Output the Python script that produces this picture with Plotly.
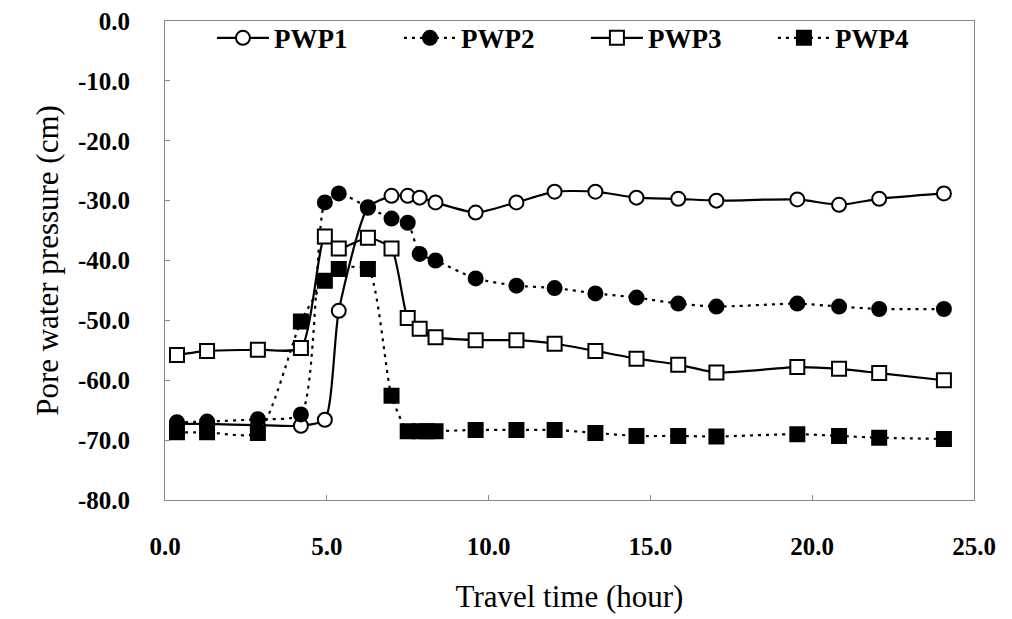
import plotly.graph_objects as go

# Data
t_common = [0.37, 1.3, 2.87, 4.2, 4.94, 5.37, 6.27, 7.0, 7.5, 7.87, 8.36, 9.6, 10.86,
            12.04, 13.3, 14.57, 15.86, 17.04, 19.54, 20.83, 22.07, 24.07]

pwp1 = [-67.3, -67.3, -67.5, -67.6, -66.6, -48.4, -31.2, -29.2, -29.2, -29.5, -30.3, -32.0,
        -30.3, -28.5, -28.5, -29.5, -29.7, -30.0, -29.8, -30.7, -29.7, -28.8]
pwp2 = [-67.0, -66.9, -66.5, -65.7, -30.3, -28.8, -31.1, -33.0, -33.7, -38.9, -40.0, -43.0,
        -44.2, -44.6, -45.5, -46.2, -47.2, -47.7, -47.2, -47.7, -48.1, -48.1]
pwp3 = [-55.8, -55.1, -54.9, -54.6, -36.0, -38.0, -36.2, -38.0, -49.6, -51.4, -52.8, -53.3,
        -53.3, -53.9, -55.1, -56.4, -57.4, -58.7, -57.8, -58.1, -58.8, -60.0]
t_pwp4 = [0.37, 1.3, 2.87, 4.2, 4.94, 5.37, 6.27, 7.0, 7.5, 7.87, 8.1, 8.36, 9.6, 10.86,
          12.04, 13.3, 14.57, 15.86, 17.04, 19.54, 20.83, 22.07, 24.07]
pwp4 = [-68.7, -68.7, -68.8, -50.2, -43.4, -41.4, -41.4, -62.6, -68.5, -68.5, -68.5, -68.5,
        -68.3, -68.3, -68.3, -68.8, -69.3, -69.3, -69.4, -69.0, -69.3, -69.6, -69.8]

x_ticks = [0, 5, 10, 15, 20, 25]
x_labels = ["0.0", "5.0", "10.0", "15.0", "20.0", "25.0"]
y_ticks = [0, -10, -20, -30, -40, -50, -60, -70, -80]
y_labels = ["0.0", "-10.0", "-20.0", "-30.0", "-40.0", "-50.0", "-60.0", "-70.0", "-80.0"]

series = [
    ("PWP1", t_common, pwp1, "circle", True, "solid"),
    ("PWP2", t_common, pwp2, "circle", False, "3px,5px"),
    ("PWP3", t_common, pwp3, "square", True, "solid"),
    ("PWP4", t_pwp4, pwp4, "square", False, "3px,5px"),
]

fig = go.Figure()
for name, xs, ys, sym, open_m, dash in series:
    fig.add_trace(go.Scatter(
        x=xs, y=ys, name="<b>" + name + "</b>", mode="lines+markers",
        line=dict(color="black", width=2.2, dash=dash, shape="spline", smoothing=0.6),
        marker=dict(symbol=sym, size=14,
                    color="white" if open_m else "black",
                    line=dict(color="black", width=2)),
    ))

tick_font = dict(family="Liberation Serif", size=25, color="black")
fig.update_layout(
    width=1004, height=611,
    margin=dict(l=157, r=38, t=13, b=119, autoexpand=False),
    paper_bgcolor="white", plot_bgcolor="white",
    font=dict(family="Liberation Serif", color="black"),
    showlegend=True,
    legend=dict(orientation="h", x=0.058, y=1.015, xanchor="left", yanchor="top",
                entrywidth=120, entrywidthmode="pixels", itemwidth=52,
                font=dict(family="Liberation Serif", size=27, color="black"),
                bgcolor="rgba(0,0,0,0)"),
    xaxis=dict(range=[0, 25], tickvals=x_ticks, automargin=False,
               ticktext=["<b>" + s + "</b>" for s in x_labels],
               showgrid=False, zeroline=False, showline=True, mirror=True,
               linecolor="#888", linewidth=1, ticks="inside", ticklen=5, tickcolor="#888",
               tickfont=tick_font, ticklabelstandoff=24, ticklabeloverflow="allow",
               title=dict(text="Travel time (hour)",
                          font=dict(family="Liberation Serif", size=31, color="black"),
                          standoff=26)),
    yaxis=dict(range=[-80, 0], tickvals=y_ticks, automargin=False,
               ticktext=["<b>" + s + "</b>" for s in y_labels],
               showgrid=False, zeroline=False, showline=True, mirror=True,
               linecolor="#888", linewidth=1, ticks="inside", ticklen=5, tickcolor="#888",
               tickfont=tick_font, ticklabelstandoff=29, ticklabeloverflow="allow",
               title=dict(text="Pore water pressure (cm)",
                          font=dict(family="Liberation Serif", size=31, color="black"),
                          standoff=10)),
)

fig.write_html("out.html")
